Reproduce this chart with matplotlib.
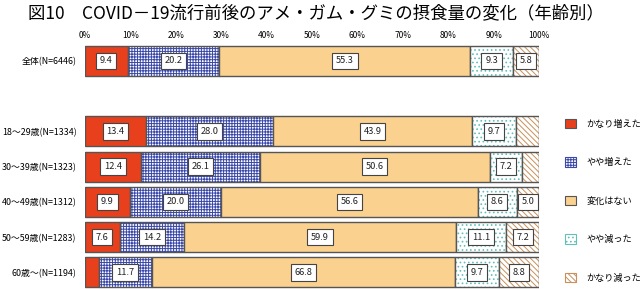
import matplotlib
matplotlib.use('Agg')
import matplotlib.pyplot as plt
from matplotlib.patches import Patch
import numpy as np

plt.rcParams['font.family'] = ['Noto Sans CJK JP', 'DejaVu Sans']
plt.rcParams['hatch.linewidth'] = 0.7

groups = ['全体(N=6446)', '', '18～29歳(N=1334)', '30～39歳(N=1323)',
          '40～49歳(N=1312)', '50～59歳(N=1283)', '60歳～(N=1194)']
categories = ['かなり増えた', 'やや増えた', '変化はない', 'やや減った', 'かなり減った']

# percent per group (blank row = spacer)
much_up = [9.4, 0, 13.4, 12.4, 9.9, 7.6, 3.0]
bit_up = [20.2, 0, 28.0, 26.1, 20.0, 14.2, 11.7]
same = [55.3, 0, 43.9, 50.6, 56.6, 59.9, 66.8]
bit_down = [9.3, 0, 9.7, 7.2, 8.6, 11.1, 9.7]
much_down = [5.8, 0, 5.0, 3.7, 5.0, 7.2, 8.8]
series = [much_up, bit_up, same, bit_down, much_down]

# segments that carry no number label in the original
unlabeled = {(2, 4), (3, 4), (6, 0)}

fills = ['#e8401c', 'white', '#fbd18f', 'white', 'white']
hatches = [None, '++++++', None, '....', '\\\\\\\\\\\\']
hatch_cols = ['#e8401c', '#3a48a8', '#fbd18f', '#62c0bc', '#c8905a']

fig = plt.figure(figsize=(6.4, 2.89), dpi=100)
ax = fig.add_axes([85 / 640, 0, 454 / 640, 245 / 289])

y = np.arange(len(groups))
rows = [i for i, g in enumerate(groups) if g]
left = np.zeros(len(groups))
for k, vals in enumerate(series):
    vals = np.array(vals)
    for i in rows:
        ax.barh(y[i], vals[i], left=left[i], height=0.85, color=fills[k],
                hatch=hatches[k], edgecolor=hatch_cols[k], linewidth=0)
        ax.barh(y[i], vals[i], left=left[i], height=0.85, fill=False,
                edgecolor='#555555', linewidth=1.0)
        if (i, k) not in unlabeled:
            ax.text(left[i] + vals[i] / 2, y[i], f'{vals[i]:.1f}', ha='center',
                    va='center', fontsize=6.7, color='#222222',
                    bbox=dict(boxstyle='square,pad=0.4', fc='white',
                              ec='#444444', lw=0.8))
    left += vals

ax.set_xlim(0, 100)
ax.set_ylim(6.47, -0.48)
ax.set_xticks(range(0, 101, 10))
ax.set_xticklabels([f'{t}%' for t in range(0, 101, 10)], fontsize=6)
ax.xaxis.tick_top()
ax.tick_params(axis='x', length=0, pad=3)
ax.set_yticks(y)
ax.set_yticklabels(groups, fontsize=6.4)
ax.tick_params(axis='y', length=0, pad=6)
for s in ax.spines.values():
    s.set_visible(False)

handles = []
for k in range(5):
    ec = '#555555' if hatches[k] is None else hatch_cols[k]
    handles.append(Patch(facecolor=fills[k], hatch=hatches[k], edgecolor=ec,
                         linewidth=0.8))
fig.legend(handles, categories, loc='upper left',
           bbox_to_anchor=(560 / 640, 1 - 114 / 289), frameon=False,
           fontsize=6.6, handlelength=1.25, handleheight=1.25,
           handletextpad=1.1, labelspacing=3.12, borderpad=0)

fig.text(28 / 640, 1 - 13 / 289, '図10　COVID－19流行前後のアメ・ガム・グミの摂食量の変化（年齢別）',
         fontsize=12.5, va='center', ha='left')

fig.savefig('out.png', dpi=100)
